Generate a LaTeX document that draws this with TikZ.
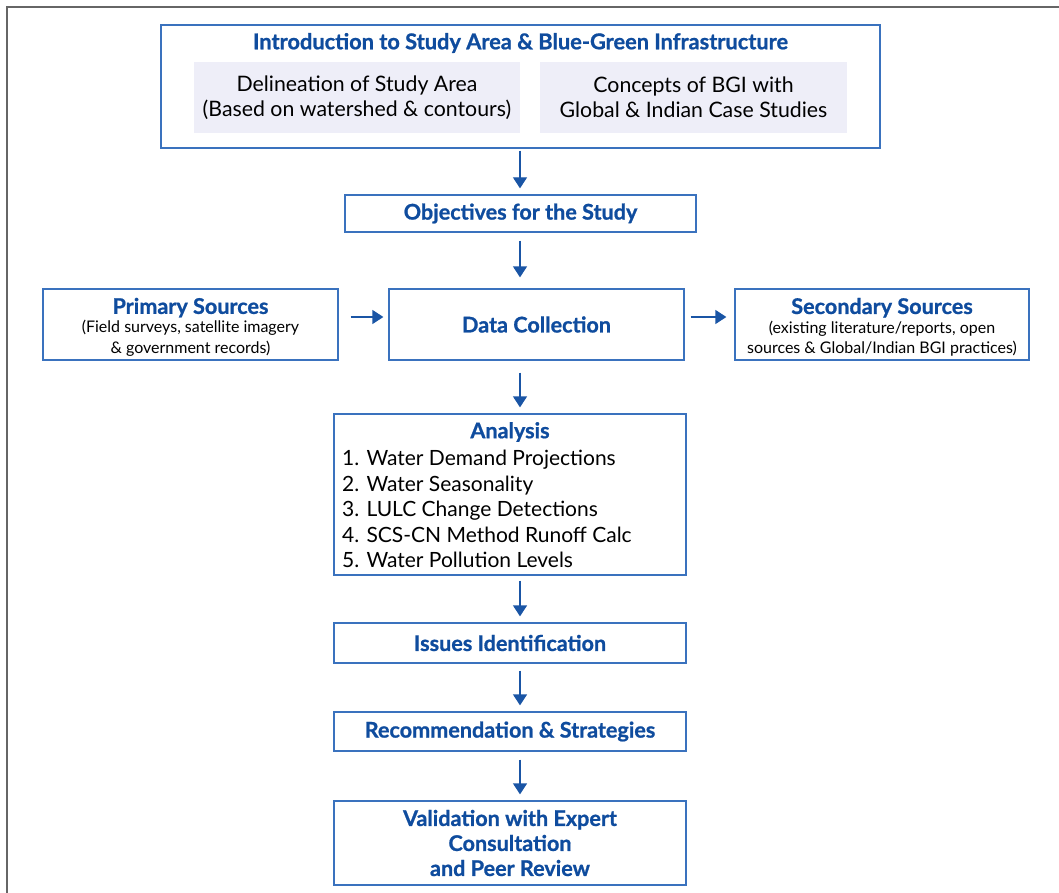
\documentclass[tikz,border=0pt]{standalone}
\usepackage{fontspec}
\setmainfont{Lato}[BoldFeatures={FakeBold=0.9}]
\usetikzlibrary{arrows.meta,positioning}
\definecolor{titleblue}{HTML}{0F4C9E}
\definecolor{edgeblue}{HTML}{3A72BE}
\definecolor{arrowblue}{HTML}{1A55A5}
\definecolor{panelfill}{HTML}{EEEEF8}
\definecolor{framegray}{HTML}{666666}
\tikzset{
  box/.style={draw=edgeblue, line width=1.3pt, fill=white, inner sep=4pt, align=center},
  panel/.style={fill=panelfill, inner sep=0pt, align=center, font=\fontsize{21.3}{25}\selectfont},
  head/.style={text=titleblue, font=\bfseries\fontsize{21.6}{25}\selectfont, align=center},
  srctext/.style={inner sep=0pt, align=center},
  flow/.style={draw=arrowblue, line width=1.3pt, -{Triangle[width=14pt,length=11pt]}}
}
\begin{document}
\begin{tikzpicture}[x=1pt,y=-1pt]
\useasboundingbox (0,0) rectangle (1059,893);
% page frame
\draw[framegray, line width=2pt] (7,893) -- (7,7) -- (1059,7);

% introduction block
\node[box, minimum width=719pt, minimum height=123pt] (intro) at (520.5,86.5) {};
\node[head, font=\bfseries\fontsize{21.8}{25}\selectfont] (introtitle) at (520.5,43) {Introduction to Study Area \& Blue-Green Infrastructure};
\node[panel, minimum width=326pt, minimum height=71pt] (delin) at (357,97.5)
  {Delineation of Study Area\\(Based on watershed \& contours)};
\node[panel, minimum width=307pt, minimum height=71pt] (bgi) at (693.5,97.5)
  {Concepts of BGI with\\Global \& Indian Case Studies};

% objectives
\node[box, head, minimum width=351pt, minimum height=37pt] (obj) at (520.5,213.5) {Objectives for the Study};

% data collection row
\node[box, head, minimum width=295pt, minimum height=71pt] (data) at (536.5,324.5) {Data Collection};
\node[box, minimum width=295pt, minimum height=71pt] (prim) at (190.5,324.5) {};
\node[srctext] (primtext) at (190.5,327)
  {{\color{titleblue}\bfseries\fontsize{21.6}{22}\selectfont Primary Sources}\\[2pt]
   {\fontsize{16}{20}\selectfont (Field surveys, satellite imagery}\\[4pt]
   {\fontsize{16}{20}\selectfont \& government records)}};
\node[box, minimum width=294pt, minimum height=71pt] (sec) at (882,324.5) {};
\node[srctext] (sectext) at (882,327)
  {{\color{titleblue}\bfseries\fontsize{21.6}{22}\selectfont Secondary Sources}\\[2pt]
   {\fontsize{16}{20}\selectfont (existing literature/reports, open}\\[4pt]
   {\fontsize{16}{20}\selectfont sources \& Global/Indian BGI practices)}};

% analysis
\node[box, minimum width=352pt, minimum height=161pt] (analysis) at (510,494.5) {};
\node[head] (antitle) at (510,432) {Analysis};
\node[anchor=north west, inner sep=0pt, align=left, font=\fontsize{21}{25.5}\selectfont] (anlist) at (342,450)
  {1. Water Demand Projections\\
   2. Water Seasonality\\
   3. LULC Change Detections\\
   4. SCS-CN Method Runoff Calc\\
   5. Water Pollution Levels};

% later stages
\node[box, head, minimum width=352pt, minimum height=40pt] (issues) at (510,643) {Issues Identification};
\node[box, head, minimum width=352pt, minimum height=39pt] (rec) at (510,731.5) {Recommendation \& Strategies};
\node[box, head, minimum width=352pt, minimum height=84pt] (valid) at (510,843)
  {Validation with Expert\\Consultation\\and Peer Review};

% connectors
\coordinate (spine) at (520,0);
\draw[flow, shorten <=2pt, shorten >=6pt] (intro.south -| spine) -- (obj.north -| spine);
\draw[flow, shorten <=8pt, shorten >=11pt] (obj.south -| spine) -- (data.north -| spine);
\draw[flow, shorten <=12pt, shorten >=6pt] (data.south -| spine) -- (analysis.north -| spine);
\draw[flow, shorten <=5pt, shorten >=6pt] (analysis.south -| spine) -- (issues.north -| spine);
\draw[flow, shorten <=7pt, shorten >=6pt] (issues.south -| spine) -- (rec.north -| spine);
\draw[flow, shorten <=8pt, shorten >=6pt] (rec.south -| spine) -- (valid.north -| spine);
\draw[flow, shorten <=12pt, shorten >=5pt] ([yshift=7.5pt]prim.east) -- ([yshift=7.5pt]data.west);
\draw[flow, shorten <=6pt, shorten >=8pt] ([yshift=7.5pt]data.east) -- ([yshift=7.5pt]sec.west);
\end{tikzpicture}
\end{document}
